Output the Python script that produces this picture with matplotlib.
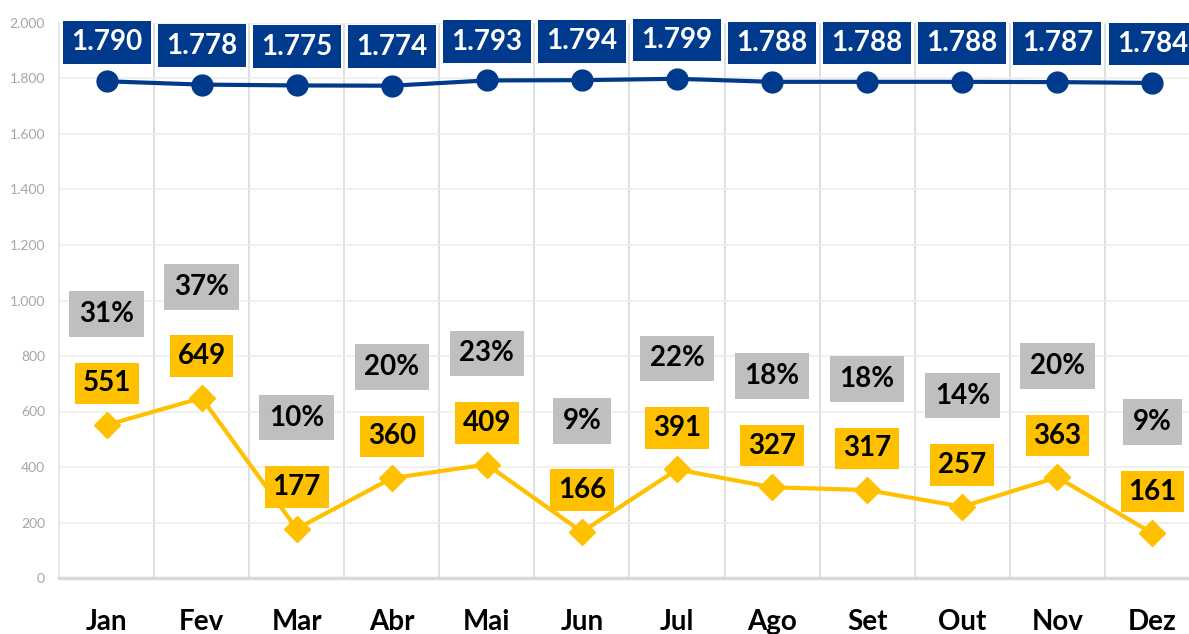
import matplotlib
matplotlib.use("Agg")
import matplotlib.pyplot as plt
from matplotlib.ticker import FuncFormatter, FixedLocator

# colors
blue = '#003A8C'
yellow = '#FFC000'
gray_box = '#BFBFBF'
grid_color = '#D9D9D9'
tick_color = '#A6A6A6'

# data
months = ['Jan', 'Fev', 'Mar', 'Abr', 'Mai', 'Jun', 'Jul', 'Ago', 'Set', 'Out', 'Nov', 'Dez']
total = [1790, 1778, 1775, 1774, 1793, 1794, 1799, 1788, 1788, 1788, 1787, 1784]
partial = [551, 649, 177, 360, 409, 166, 391, 327, 317, 257, 363, 161]
share_pct = [31, 37, 10, 20, 23, 9, 22, 18, 18, 14, 20, 9]

plt.rcParams['font.family'] = ['Lato', 'DejaVu Sans']

fig = plt.figure(figsize=(11.89, 6.34), dpi=100)
ax = fig.add_axes([59 / 1189, 56 / 634, 1141 / 1189, 555 / 634])

x = list(range(len(months)))

ax.plot(x, total, color=blue, lw=3, marker='o', ms=15, zorder=3)
ax.plot(x, partial, color=yellow, lw=3, marker='D', ms=13, zorder=3)


def fmt_thousands(v):
    return f'{v:,.0f}'.replace(',', '.')


for xi, v in zip(x, total):
    ax.annotate(fmt_thousands(v), (xi, v), xytext=(0, 28), textcoords='offset points',
                ha='center', va='center', fontsize=20, fontweight='bold', color='white',
                bbox=dict(boxstyle='square,pad=0.3', fc=blue, ec='none'), zorder=4)

for xi, v, p in zip(x, partial, share_pct):
    ax.annotate(str(v), (xi, v), xytext=(0, 30), textcoords='offset points',
                ha='center', va='center', fontsize=20, fontweight='bold', color='black',
                bbox=dict(boxstyle='square,pad=0.28', fc=yellow, ec='none'), zorder=4)
    ax.annotate(f'{p}%', (xi, v), xytext=(0, 80), textcoords='offset points',
                ha='center', va='center', fontsize=20, fontweight='bold', color='black',
                bbox=dict(boxstyle='square,pad=0.35', fc=gray_box, ec='none'), zorder=4)

ax.set_xlim(-0.5, 11.5)
ax.set_ylim(0, 2000)
ax.set_yticks(range(0, 2001, 200))
ax.yaxis.set_major_formatter(FuncFormatter(lambda v, _: fmt_thousands(v)))
ax.set_xticks(x)
ax.set_xticklabels(months, fontsize=20, fontweight='bold', color='black')
ax.xaxis.set_minor_locator(FixedLocator([i + 0.5 for i in range(11)]))

ax.tick_params(axis='x', which='both', length=0, pad=22)
ax.tick_params(axis='y', length=0, labelsize=10, labelcolor=tick_color, pad=10)

ax.grid(axis='y', which='major', color='#EDEDED', lw=1.2)
ax.grid(axis='x', which='minor', color=grid_color, lw=1.2)
ax.set_axisbelow(True)

for side in ['top', 'right']:
    ax.spines[side].set_visible(False)
ax.spines['left'].set_color('#E3E3E3')
ax.spines['left'].set_linewidth(1.2)
ax.spines['bottom'].set_color(grid_color)
ax.spines['bottom'].set_linewidth(2.5)

fig.savefig('out.png', dpi=100, facecolor='white')
